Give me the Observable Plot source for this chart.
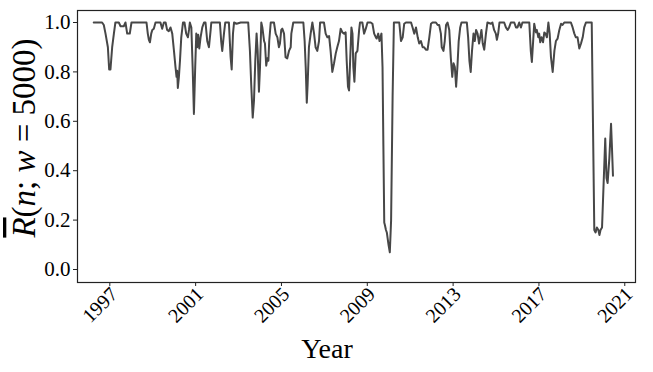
<!DOCTYPE html>
<html>
<head>
<meta charset="utf-8">
<script src="https://cdn.jsdelivr.net/npm/d3@7"></script>
<script src="https://cdn.jsdelivr.net/npm/@observablehq/plot@0.6"></script>
<style>
  html, body { margin: 0; padding: 0; background: #fff; }
  #chart { width: 653px; height: 372px; }
</style>
</head>
<body>
<div id="chart"></div>
<script>
// ---- data ----
const years = [
  1996.25, 1996.64, 1996.72, 1996.80, 1996.91, 1996.97, 1997.03, 1997.11, 1997.19, 1997.26,
  1997.42, 1997.50, 1997.65, 1997.73, 1997.81, 1997.93, 1998.01, 1998.71, 1998.77, 1998.82,
  1998.87, 1998.93, 1998.98, 1999.05, 1999.13, 1999.36, 1999.44, 1999.52, 1999.60, 1999.67,
  1999.75, 1999.83, 1999.91, 1999.99, 2000.06, 2000.11, 2000.14, 2000.17, 2000.22, 2000.27,
  2000.33, 2000.41, 2000.48, 2000.56, 2000.64, 2000.69, 2000.73, 2000.80, 2000.86, 2000.92,
  2000.98, 2001.03, 2001.07, 2001.12, 2001.17, 2001.23, 2001.31, 2001.39, 2001.46, 2001.54,
  2001.62, 2001.70, 2001.73, 2002.13, 2002.19, 2002.24, 2002.32, 2002.38, 2002.55, 2002.63,
  2002.68, 2002.74, 2002.79, 2002.91, 2003.10, 2003.45, 2003.53, 2003.59, 2003.66, 2003.72,
  2003.78, 2003.84, 2003.89, 2003.95, 2004.00, 2004.06, 2004.11, 2004.19, 2004.23, 2004.29,
  2004.34, 2004.39, 2004.43, 2004.50, 2004.65, 2004.73, 2004.81, 2004.88, 2004.93, 2004.99,
  2005.04, 2005.12, 2005.19, 2005.27, 2005.35, 2005.43, 2005.46, 2005.55, 2006.02, 2006.08,
  2006.13, 2006.18, 2006.22, 2006.28, 2006.36, 2006.44, 2006.52, 2006.59, 2006.67, 2006.75,
  2006.80, 2006.98, 2007.06, 2007.14, 2007.22, 2007.29, 2007.37, 2007.45, 2007.53, 2007.60,
  2007.68, 2007.76, 2007.84, 2007.92, 2007.99, 2008.04, 2008.10, 2008.15, 2008.20, 2008.26,
  2008.31, 2008.35, 2008.40, 2008.46, 2008.54, 2008.62, 2008.66, 2008.77, 2008.85, 2008.93,
  2009.01, 2009.16, 2009.24, 2009.32, 2009.40, 2009.44, 2009.51, 2009.57, 2009.66, 2009.71,
  2009.75, 2009.79, 2009.82, 2009.87, 2009.91, 2009.99, 2010.05, 2010.11, 2010.18, 2010.24,
  2010.49, 2010.57, 2010.65, 2010.72, 2010.80, 2011.04, 2011.11, 2011.19, 2011.27, 2011.35,
  2011.42, 2011.50, 2011.58, 2011.65, 2011.73, 2011.81, 2011.89, 2011.97, 2012.04, 2012.20,
  2012.28, 2012.35, 2012.43, 2012.47, 2012.55, 2012.61, 2012.67, 2012.74, 2012.82, 2012.89,
  2012.96, 2013.02, 2013.08, 2013.14, 2013.20, 2013.26, 2013.33, 2013.39, 2013.64, 2013.70,
  2013.76, 2013.82, 2013.88, 2013.95, 2014.01, 2014.07, 2014.14, 2014.21, 2014.26, 2014.32,
  2014.38, 2014.45, 2014.53, 2014.60, 2014.76, 2014.83, 2014.91, 2014.99, 2015.04, 2015.10,
  2015.16, 2015.38, 2015.46, 2015.54, 2015.61, 2015.69, 2015.85, 2015.93, 2016.00, 2016.08,
  2016.16, 2016.23, 2016.55, 2016.62, 2016.67, 2016.73, 2016.78, 2016.86, 2016.90, 2016.97,
  2017.01, 2017.06, 2017.12, 2017.19, 2017.25, 2017.31, 2017.37, 2017.44, 2017.50, 2017.56,
  2017.64, 2017.72, 2017.79, 2017.87, 2017.95, 2018.03, 2018.10, 2018.18, 2018.49, 2018.57,
  2018.65, 2018.72, 2018.80, 2018.88, 2018.96, 2019.04, 2019.11, 2019.19, 2019.46, 2019.58,
  2019.64, 2019.70, 2019.77, 2019.82, 2019.87, 2019.94, 2020.09, 2020.15, 2020.20, 2020.28,
  2020.36, 2020.40, 2020.45
];
const values = [
  1.00, 1.00, 0.99, 0.955, 0.90, 0.81, 0.81, 0.90, 0.955, 1.00,
  1.00, 0.985, 0.985, 1.00, 0.955, 0.955, 1.00, 1.00, 0.955, 0.93,
  0.92, 0.955, 0.97, 0.975, 1.00, 1.00, 0.975, 1.00, 1.00, 0.97,
  0.965, 0.98, 0.955, 0.885, 0.82, 0.78, 0.805, 0.735, 0.78, 0.845,
  0.94, 1.00, 1.00, 0.955, 0.94, 0.97, 1.00, 0.98, 0.82, 0.63,
  0.82, 0.955, 0.90, 0.95, 0.895, 0.94, 0.98, 1.00, 1.00, 0.925,
  0.90, 0.97, 1.00, 1.00, 0.925, 0.885, 0.955, 1.00, 1.00, 0.86,
  0.81, 0.955, 1.00, 0.995, 1.00, 1.00, 0.885, 0.75, 0.615, 0.685,
  0.845, 0.955, 0.885, 0.72, 0.82, 1.00, 0.98, 0.925, 0.915, 0.825,
  0.855, 0.845, 0.925, 1.00, 1.00, 0.955, 0.94, 0.90, 0.915, 0.97,
  0.975, 0.955, 0.86, 0.855, 0.885, 0.90, 0.955, 1.00, 1.00, 0.925,
  0.82, 0.675, 0.75, 0.90, 0.955, 1.00, 0.955, 0.90, 0.885, 0.925,
  1.00, 1.00, 0.955, 0.94, 0.945, 0.885, 0.80, 0.835, 0.875, 0.90,
  0.925, 0.975, 0.96, 0.955, 0.96, 0.845, 0.74, 0.725, 0.845, 0.98,
  0.955, 0.82, 0.76, 0.875, 0.885, 0.97, 1.00, 1.00, 0.955, 0.975,
  1.00, 1.00, 0.995, 0.955, 0.94, 0.935, 0.955, 0.925, 0.955, 0.82,
  0.50, 0.19, 0.18, 0.16, 0.15, 0.10, 0.07, 0.20, 0.70, 1.00,
  1.00, 0.925, 0.94, 0.995, 1.00, 1.00, 0.98, 0.955, 0.98, 0.94,
  0.915, 0.925, 0.90, 0.90, 0.89, 0.89, 0.94, 0.995, 1.00, 1.00,
  0.99, 0.99, 0.955, 0.90, 0.885, 0.925, 0.99, 1.00, 0.97, 0.86,
  0.78, 0.835, 0.82, 0.74, 0.82, 0.925, 0.98, 1.00, 1.00, 0.94,
  0.845, 0.80, 0.885, 0.955, 0.925, 0.97, 0.955, 0.915, 0.94, 0.97,
  0.915, 0.89, 0.955, 1.00, 0.995, 1.00, 0.97, 0.955, 0.93, 0.955,
  1.00, 1.00, 0.98, 0.97, 0.98, 1.00, 1.00, 0.98, 0.98, 1.00,
  0.98, 1.00, 1.00, 0.885, 0.84, 0.925, 0.995, 0.96, 0.97, 0.94,
  0.955, 0.92, 0.94, 0.92, 0.96, 0.955, 0.94, 1.00, 0.955, 0.86,
  0.80, 0.885, 0.925, 0.935, 0.97, 0.995, 0.99, 1.00, 1.00, 0.98,
  0.955, 0.94, 0.94, 0.895, 0.915, 0.94, 0.98, 1.00, 1.00, 0.16,
  0.15, 0.17, 0.16, 0.14, 0.16, 0.17, 0.53, 0.37, 0.35, 0.45,
  0.59, 0.50, 0.38
];
const yearTicks = [1997, 2001, 2005, 2009, 2013, 2017, 2021];
const valueTicks = [0.0, 0.2, 0.4, 0.6, 0.8, 1.0];
const xLabel = "Year";

const rows = years.map((t, i) => ({year: t, value: values[i]}));

const serif = "'Liberation Serif', 'DejaVu Serif', serif";

const chart = Plot.plot({
  width: 653,
  height: 372,
  marginLeft: 77,
  marginRight: 18,
  marginTop: 10,
  marginBottom: 90,
  style: {fontFamily: serif, fontSize: "21px", color: "#000", background: "#fff", overflow: "visible"},
  x: {domain: [1995.494, 2021.5], label: null},
  y: {domain: [-0.0526, 1.0486], label: null},
  marks: [
    Plot.axisY({ticks: valueTicks, tickFormat: d => d.toFixed(1), tickSize: 4, tickPadding: 3, stroke: "#222", fontSize: 21}),
    Plot.axisX({ticks: yearTicks, tickFormat: () => "", tickSize: 4, stroke: "#222"}),
    Plot.text(yearTicks, {x: d => d, text: d => String(d), frameAnchor: "bottom", rotate: -45, textAnchor: "end", lineAnchor: "bottom", dx: 9, dy: 13, fontSize: 20, fill: "#000"}),
    Plot.line(rows, {x: "year", y: "value", stroke: "#474747", strokeWidth: 2, strokeLinejoin: "round"}),
    Plot.frame({stroke: "#222", strokeWidth: 1.2})
  ]
});
document.getElementById("chart").appendChild(chart);

// axis titles
const svg = d3.select(chart);
svg.append("text")
  .attr("x", 327).attr("y", 358)
  .attr("text-anchor", "middle")
  .style("font-family", serif).style("font-size", "28px").attr("fill", "#000")
  .text(xLabel);

const yl = svg.append("text")
  .attr("transform", "translate(35,138) rotate(-90)")
  .attr("text-anchor", "middle")
  .style("font-family", serif).style("font-size", "33px").attr("fill", "#000");
yl.append("tspan").style("text-decoration", "overline").style("font-style", "italic").text("R");
yl.append("tspan").text("(");
yl.append("tspan").style("font-style", "italic").text("n");
yl.append("tspan").text("; ");
yl.append("tspan").style("font-style", "italic").text("w");
yl.append("tspan").text(" = 5000)");
</script>
</body>
</html>
